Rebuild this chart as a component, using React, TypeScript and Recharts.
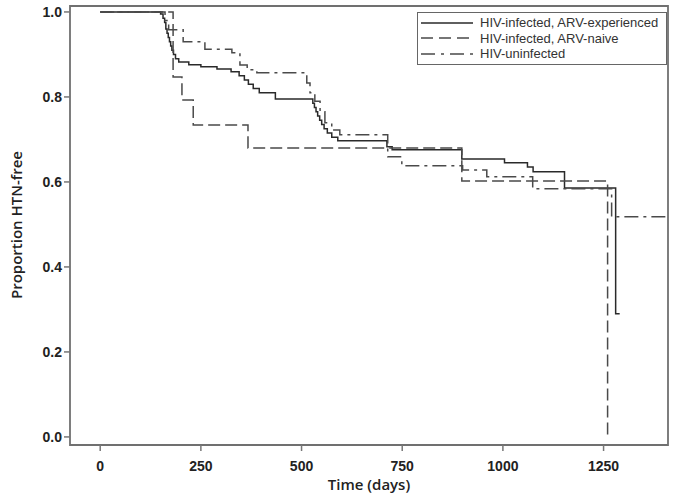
import React from 'react';
import { LineChart, Line, XAxis, YAxis, ReferenceArea, Legend, Label } from 'recharts';

// Kaplan-Meier steps: day of event, proportion HTN-free after it
const expDays = [0, 150, 156, 160, 163, 166, 169, 172, 175, 178, 182, 187, 195, 220, 250, 290, 325, 345, 358, 368, 380, 395, 435, 528, 532, 536, 540, 545, 550, 556, 564, 575, 590, 712, 725, 898, 1004, 1061, 1075, 1153, 1280, 1290];
const expProp = [1.0, 0.995, 0.985, 0.975, 0.96, 0.95, 0.94, 0.93, 0.92, 0.91, 0.9, 0.89, 0.882, 0.876, 0.871, 0.866, 0.859, 0.85, 0.84, 0.83, 0.82, 0.81, 0.795, 0.785, 0.775, 0.765, 0.755, 0.745, 0.735, 0.725, 0.715, 0.705, 0.697, 0.683, 0.676, 0.654, 0.645, 0.635, 0.624, 0.586, 0.29, 0.29];

const naiveDays = [0, 181, 203, 231, 367, 898, 1260];
const naiveProp = [1.0, 0.847, 0.793, 0.734, 0.68, 0.602, 0.0];

const uninfDays = [0, 161, 170, 206, 260, 327, 347, 365, 389, 513, 521, 533, 546, 558, 575, 595, 714, 749, 900, 960, 1074, 1270, 1410];
const uninfProp = [1.0, 0.98, 0.958, 0.93, 0.912, 0.904, 0.875, 0.864, 0.857, 0.833, 0.81, 0.79, 0.765, 0.739, 0.722, 0.711, 0.659, 0.638, 0.628, 0.612, 0.584, 0.518, 0.518];

const xTicks = [0, 250, 500, 750, 1000, 1250];
const yTicks = [0, 0.2, 0.4, 0.6, 0.8, 1.0];

const X_DOMAIN: [number, number] = [-75, 1410];
const Y_DOMAIN: [number, number] = [-0.019, 1.014];

const toRows = (days: number[], props: number[]) => days.map((d, i) => ({ day: d, p: props[i] }));

const series = [
  { name: 'HIV-infected, ARV-experienced', data: toRows(expDays, expProp), dash: undefined, legendDash: undefined, color: '#2a2a2a' },
  { name: 'HIV-infected, ARV-naive', data: toRows(naiveDays, naiveProp), dash: '12 5', legendDash: '12 6', color: '#4a4a4a' },
  { name: 'HIV-uninfected', data: toRows(uninfDays, uninfProp), dash: '14 5 3 5', legendDash: '14 6 3 6', color: '#4a4a4a' },
];

const tickFont = "'Liberation Sans Narrow', 'Liberation Sans', Arial, sans-serif";
const titleFont = "'Open Sans', 'Liberation Sans', Arial, sans-serif";
const legendFont = "'Liberation Sans', Arial, sans-serif";

const LegendBox = () => (
  <div
    style={{
      border: '1.5px solid #666',
      background: '#fff',
      padding: '2px 3px',
      fontFamily: legendFont,
      fontSize: 13,
      color: '#333',
      lineHeight: '15.5px',
      boxSizing: 'border-box',
    }}
  >
    {series.map((s) => (
      <div key={s.name} style={{ display: 'flex', alignItems: 'center' }}>
        <svg width={53} height={10}>
          <line x1={0} y1={5} x2={52} y2={5} stroke={s.color} strokeWidth={1.5} strokeDasharray={s.legendDash} />
        </svg>
        <span style={{ marginLeft: 6 }}>{s.name}</span>
      </div>
    ))}
  </div>
);

const YTitle = () => (
  <text
    x={16}
    y={225}
    transform="rotate(-90 16 225)"
    textAnchor="middle"
    dominantBaseline="central"
    style={{ fontFamily: titleFont, fontSize: 15, fontWeight: 600, fill: '#222' }}
  >
    Proportion HTN-free
  </text>
);

export default function App() {
  return (
    <div style={{ position: 'absolute', left: 0, top: 0, background: '#fff' }}>
      <LineChart width={675} height={500} margin={{ top: 6, right: 7, bottom: 0, left: 0 }}>
        <XAxis
          dataKey="day"
          type="number"
          domain={X_DOMAIN}
          ticks={xTicks}
          interval={0}
          allowDataOverflow
          axisLine={false}
          tickLine={{ stroke: '#777', strokeWidth: 1.5 }}
          tickSize={6}
          tickMargin={10}
          height={55}
          tick={{ fill: '#222', fontSize: 14, fontWeight: 'bold', fontFamily: tickFont }}
        >
          <Label
            value="Time (days)"
            position="insideBottom"
            offset={10}
            style={{ fontFamily: titleFont, fontSize: 15, fontWeight: 600, fill: '#222' }}
          />
        </XAxis>
        <YAxis
          type="number"
          domain={Y_DOMAIN}
          ticks={yTicks}
          interval={0}
          allowDataOverflow
          width={70}
          axisLine={false}
          tickLine={{ stroke: '#777', strokeWidth: 1.5 }}
          tickSize={6}
          tickMargin={2}
          tickFormatter={(v: number) => v.toFixed(1)}
          tick={{ fill: '#222', fontSize: 14, fontWeight: 'bold', fontFamily: tickFont }}
        >
          <Label content={<YTitle />} />
        </YAxis>
        <ReferenceArea
          x1={X_DOMAIN[0]}
          x2={X_DOMAIN[1]}
          y1={Y_DOMAIN[0]}
          y2={Y_DOMAIN[1]}
          fill="none"
          fillOpacity={0}
          stroke="#707070"
          strokeWidth={1.8}
          ifOverflow="visible"
        />
        {series.map((s) => (
          <Line
            key={s.name}
            data={s.data}
            dataKey="p"
            name={s.name}
            type="stepAfter"
            stroke={s.color}
            strokeWidth={1.5}
            strokeDasharray={s.dash}
            dot={false}
            activeDot={false}
            isAnimationActive={false}
          />
        ))}
        <Legend
          layout="vertical"
          align="center"
          verticalAlign="middle"
          content={<LegendBox />}
          wrapperStyle={{ position: 'absolute', top: 12, left: 417, width: 250 }}
        />
      </LineChart>
    </div>
  );
}
